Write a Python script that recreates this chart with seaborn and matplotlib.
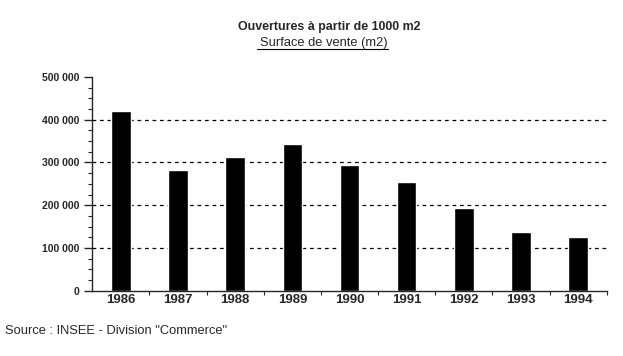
import seaborn as sns
import matplotlib.pyplot as plt
from matplotlib.lines import Line2D
from matplotlib.ticker import MultipleLocator, FuncFormatter

# données
annees = ['1986', '1987', '1988', '1989', '1990', '1991', '1992', '1993', '1994']
surface = [420000, 283000, 313000, 343000, 294000, 255000, 194000, 138000, 126000]

sns.set_style('ticks')
plt.rcParams['font.family'] = ['Liberation Sans', 'DejaVu Sans']

fig = plt.figure(figsize=(6.23, 3.56), dpi=100)
ax = fig.add_axes([0.148, 0.183, 0.826, 0.601])

sns.barplot(x=annees, y=surface, color='black', width=0.34, saturation=1, ax=ax)

ax.set_ylim(0, 500000)
ax.set_xlim(-0.5, 8.5)
ax.yaxis.set_major_locator(MultipleLocator(100000))
ax.yaxis.set_minor_locator(MultipleLocator(25000))
ax.yaxis.set_major_formatter(FuncFormatter(lambda v, p: f'{int(v):,}'.replace(',', ' ')))
ax.set_xticks(range(len(annees)), annees)
ax.set_xticks([i + 0.5 for i in range(len(annees))], minor=True)

for v in [100000, 200000, 300000, 400000]:
    ax.axhline(v, color='black', lw=0.9, ls=(0, (3, 3)), zorder=0)

sns.despine(ax=ax)
for s in ['left', 'bottom']:
    ax.spines[s].set_linewidth(1.0)
ax.tick_params(axis='y', which='major', length=6, width=1, labelsize=7.5, pad=3)
ax.tick_params(axis='y', which='minor', length=3, width=0.8)
ax.tick_params(axis='x', which='major', length=0, labelsize=9.5, pad=2)
ax.tick_params(axis='x', which='minor', length=3, width=0.8)
for lab in ax.get_xticklabels() + ax.get_yticklabels():
    lab.set_fontweight('bold')
ax.set_xlabel('')
ax.set_ylabel('')

fig.text(0.528, 0.925, 'Ouvertures à partir de 1000 m2', ha='center', va='center',
         fontsize=8.9, fontweight='bold')
sous_titre = fig.text(0.52, 0.878, 'Surface de vente (m2)', ha='center', va='center', fontsize=9.3)
fig.canvas.draw()
bb = sous_titre.get_window_extent().transformed(fig.transFigure.inverted())
fig.add_artist(Line2D([bb.x0 - 0.005, bb.x1], [bb.y0 + 0.002, bb.y0 + 0.002],
                      color='black', lw=0.8, transform=fig.transFigure))

fig.text(0.008, 0.07, 'Source : INSEE - Division "Commerce"', ha='left', va='center', fontsize=9.3)

fig.savefig('out.png', dpi=100)
